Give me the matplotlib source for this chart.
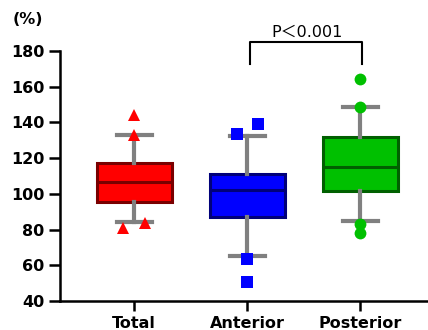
import matplotlib
matplotlib.use('Agg')
import matplotlib.pyplot as plt

# Data
groups = ['Total', 'Anterior', 'Posterior']
q1 = [95.6, 87.2, 101.8]
median = [106.8, 102.2, 115.2]
q3 = [117.1, 110.9, 131.6]
whislo = [84.4, 65.4, 84.9]
whishi = [133.0, 132.4, 148.8]
outliers = [
    [144.0, 133.0, 81.0, 83.5],
    [133.3, 139.0, 63.5, 50.8],
    [164.3, 148.8, 83.0, 77.9],
]
jitter = [
    [0.0, 0.0, -0.1, 0.1],
    [-0.09, 0.1, 0.0, 0.0],
    [0.0, 0.0, 0.0, 0.0],
]
p_text = 'P＜0.001'

fill_colors = ['#ff0000', '#0000ff', '#00c000']
edge_colors = ['#7a0000', '#00007a', '#006000']
markers = ['^', 's', 'o']
msizes = [9, 8, 8.5]

plt.rcParams['font.family'] = ['DejaVu Sans', 'Noto Sans CJK JP']

fig = plt.figure(figsize=(4.28, 3.30), dpi=100)
ax = fig.add_axes([59.7 / 428, 29 / 330, (428 - 59.7) / 428, 250 / 330])

for i in range(len(groups)):
    stats = [dict(med=median[i], q1=q1[i], q3=q3[i], whislo=whislo[i],
                  whishi=whishi[i], fliers=[])]
    ax.bxp(stats, positions=[i], widths=0.664, patch_artist=True,
           showfliers=False, manage_ticks=False,
           boxprops=dict(facecolor=fill_colors[i], edgecolor=edge_colors[i], linewidth=2.2),
           medianprops=dict(color=edge_colors[i], linewidth=2.2),
           whiskerprops=dict(color='#808080', linewidth=3),
           capprops=dict(color='#808080', linewidth=3),
           capwidths=0.31)
    xs = [i + j for j in jitter[i]]
    ax.plot(xs, outliers[i], linestyle='none', marker=markers[i], markersize=msizes[i],
            color=fill_colors[i], markeredgewidth=0, zorder=5, clip_on=False)

ax.set_xlim(-0.6575, 2.60)
ax.set_ylim(40, 180)
ax.set_yticks(range(40, 181, 20))
ax.set_xticks(range(len(groups)))
ax.set_xticklabels(groups)

for s in ['top', 'right']:
    ax.spines[s].set_visible(False)
for s in ['left', 'bottom']:
    ax.spines[s].set_linewidth(1.8)
ax.tick_params(axis='y', length=8, width=1.8, pad=3, labelsize=11.5)
ax.tick_params(axis='x', length=7.5, width=1.8, pad=3, labelsize=11.5)
for lbl in ax.get_xticklabels() + ax.get_yticklabels():
    lbl.set_fontweight('bold')

# significance bracket
bx = [1.027, 1.027, 2.015, 2.015]
by = [172.6, 185.2, 185.2, 172.6]
ax.plot(bx, by, color='black', linewidth=1.5, clip_on=False, solid_joinstyle='round')
ax.text(1.53, 190.5, p_text, ha='center', va='center', fontsize=11.5, clip_on=False)

fig.text(13 / 428, 1 - 20 / 330, '(%)', ha='left', va='center', fontsize=11.5,
         fontweight='bold')

fig.savefig('out.png', dpi=100)
